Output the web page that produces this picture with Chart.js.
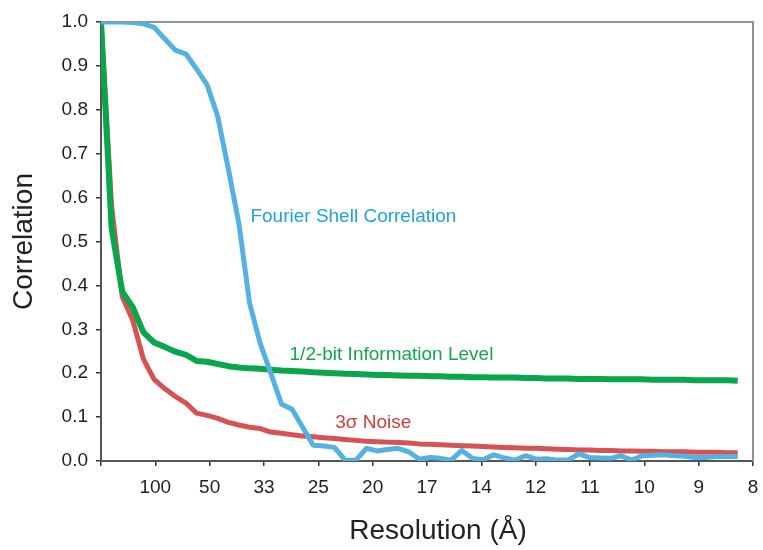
<!DOCTYPE html>
<html>
<head>
<meta charset="utf-8">
<script src="https://cdn.jsdelivr.net/npm/chart.js@4/dist/chart.umd.min.js"></script>
<style>
html,body{margin:0;padding:0;background:#fff;}
#wrap{width:763px;height:550px;}
</style>
</head>
<body>
<div id="wrap"><canvas id="c" width="763" height="550"></canvas></div>
<script>
// Spatial frequency of each shell (1/Å)
const shellFreq = [
  0, 0.00195, 0.00391, 0.00586, 0.00781, 0.00977, 0.01172, 0.01367, 0.01563, 0.01758,
  0.01953, 0.02148, 0.02344, 0.02539, 0.02734, 0.0293, 0.03125, 0.0332, 0.03516, 0.03711,
  0.03906, 0.04102, 0.04297, 0.04492, 0.04688, 0.04883, 0.05078, 0.05273, 0.05469, 0.05664,
  0.05859, 0.06055, 0.0625, 0.06445, 0.06641, 0.06836, 0.07031, 0.07227, 0.07422, 0.07617,
  0.07813, 0.08008, 0.08203, 0.08398, 0.08594, 0.08789, 0.08984, 0.0918, 0.09375, 0.0957,
  0.09766, 0.09961, 0.10156, 0.10352, 0.10547, 0.10742, 0.10938, 0.11133, 0.11328, 0.11523,
  0.11719
];
const fsc = [
  1.0, 1.0, 1.0, 0.999, 0.996, 0.988, 0.962, 0.936, 0.927, 0.893,
  0.857, 0.785, 0.665, 0.54, 0.36, 0.268, 0.2, 0.13, 0.118, 0.077,
  0.036, 0.034, 0.031, 0.002, 0.001, 0.029, 0.023, 0.026, 0.029, 0.021,
  0.004, 0.008, 0.006, 0.002, 0.024, 0.006, 0.003, 0.014, 0.007, 0.002,
  0.012, 0.004, 0.005, 0.002, 0.002, 0.016, 0.008, 0.007, 0.006, 0.012,
  0.002, 0.012, 0.013, 0.014, 0.012, 0.011, 0.008, 0.008, 0.01, 0.01,
  0.01
];
const halfBit = [
  1.0, 0.53, 0.386, 0.35, 0.293, 0.27, 0.26, 0.249, 0.242, 0.228,
  0.226, 0.221, 0.216, 0.213, 0.211, 0.21, 0.208, 0.206, 0.205, 0.204,
  0.202, 0.201, 0.2, 0.199, 0.198, 0.197, 0.196, 0.196, 0.195, 0.194,
  0.194, 0.193, 0.193, 0.192, 0.192, 0.191, 0.191, 0.19, 0.19, 0.19,
  0.189, 0.189, 0.188, 0.188, 0.188, 0.187, 0.187, 0.187, 0.186, 0.186,
  0.186, 0.186, 0.185, 0.185, 0.185, 0.185, 0.184, 0.184, 0.184, 0.184,
  0.183
];
const noise3s = [
  1.0, 0.58, 0.374, 0.32, 0.232, 0.186, 0.165, 0.147, 0.132, 0.109,
  0.104, 0.097, 0.088, 0.082, 0.077, 0.074, 0.066, 0.063, 0.06, 0.057,
  0.055, 0.053, 0.051, 0.049, 0.047, 0.045, 0.044, 0.043, 0.042, 0.041,
  0.039, 0.038, 0.037, 0.036, 0.035, 0.034, 0.033, 0.032, 0.031, 0.03,
  0.029, 0.029, 0.028, 0.027, 0.026, 0.025, 0.025, 0.024, 0.024, 0.023,
  0.023, 0.022, 0.022, 0.021, 0.021, 0.021, 0.02, 0.02, 0.02, 0.019,
  0.019
];
const tickFreqs = [0, 0.01, 0.02, 0.03, 0.04, 0.05, 0.06, 0.07, 0.08, 0.09, 0.10, 0.11, 0.12];
const resolutionLabels = ['', '100', '50', '33', '25', '20', '17', '14', '12', '11', '10', '9', '8'];
const yTicks = [0, 0.1, 0.2, 0.3, 0.4, 0.5, 0.6, 0.7, 0.8, 0.9, 1.0];
const xTitle = 'Resolution (Å)';

const seriesNames = ['Fourier Shell Correlation', '1/2-bit Information Level', '3σ Noise'];
const lineColors = ['#56b1e3', '#0aa64b', '#d65253'];
const textColors = ['#1fa2dd', '#14a64a', '#d13c3d'];
// label anchors in data space [freq, correlation]
const labelAnchors = [[0.0275, 0.556], [0.0347, 0.2415], [0.0431, 0.0866]];

const FONT = '"Liberation Sans", Arial, sans-serif';
const pts = arr => arr.map((v, i) => ({x: shellFreq[i], y: v}));

const frame = {
  id: 'frame',
  beforeDatasetsDraw(chart) {
    const {ctx, chartArea: a} = chart;
    ctx.save();
    ctx.strokeStyle = '#8f9397';
    ctx.lineWidth = 2;
    ctx.beginPath();
    ctx.moveTo(a.left, a.top);
    ctx.lineTo(a.right, a.top);
    ctx.lineTo(a.right, a.bottom);
    ctx.stroke();
    ctx.restore();
  },
  afterDatasetsDraw(chart) {
    const {ctx, chartArea: a} = chart;
    const xs = chart.scales.x, ys = chart.scales.y;
    ctx.save();
    ctx.font = '19px ' + FONT;
    ctx.textAlign = 'left';
    ctx.textBaseline = 'middle';
    seriesNames.forEach((n, i) => {
      ctx.fillStyle = textColors[i];
      ctx.fillText(n, xs.getPixelForValue(labelAnchors[i][0]), ys.getPixelForValue(labelAnchors[i][1]));
    });
    // x axis title (slightly right of centre, as in the original)
    ctx.font = '28px ' + FONT;
    ctx.fillStyle = '#222';
    ctx.textAlign = 'center';
    ctx.fillText(xTitle, (a.left + a.right) / 2 + 11, chart.height - 19);
    ctx.restore();
  }
};

new Chart(document.getElementById('c'), {
  type: 'line',
  data: {
    datasets: [
      {label: seriesNames[0], data: pts(fsc), borderColor: lineColors[0], borderWidth: 5},
      {label: seriesNames[1], data: pts(halfBit), borderColor: lineColors[1], borderWidth: 6},
      {label: seriesNames[2], data: pts(noise3s), borderColor: lineColors[2], borderWidth: 5}
    ].map(d => Object.assign(d, {pointRadius: 0, tension: 0, fill: false, borderJoinStyle: 'round', borderCapStyle: 'butt'}))
  },
  options: {
    responsive: false,
    animation: false,
    events: [],
    layout: {padding: {left: 0, right: 10, top: 22, bottom: 0}},
    plugins: {legend: {display: false}, tooltip: {enabled: false}},
    scales: {
      x: {
        type: 'linear',
        min: 0, max: 0.12,
        afterBuildTicks: s => { s.ticks = tickFreqs.map(v => ({value: v})); },
        afterFit: s => { s.height = 89; s.paddingLeft = 0; s.paddingRight = 0; },
        grid: {drawOnChartArea: false, drawTicks: true, tickLength: 5, color: '#333', lineWidth: 1.5},
        border: {display: true, color: '#555', width: 2},
        ticks: {
          autoSkip: false, maxRotation: 0, padding: 10,
          color: '#222',
          font: {family: FONT, size: 19},
          callback: (v, i) => resolutionLabels[i]
        },
        title: {display: false}
      },
      y: {
        type: 'linear',
        min: 0, max: 1.0,
        afterBuildTicks: s => { s.ticks = yTicks.map(v => ({value: v})); },
        afterFit: s => { s.width = 101; },
        grid: {drawOnChartArea: false, drawTicks: true, tickLength: 5, color: '#333', lineWidth: 1.5},
        border: {display: true, color: '#555', width: 2},
        ticks: {
          padding: 8, color: '#222',
          font: {family: FONT, size: 19},
          callback: v => Number(v).toFixed(1)
        },
        title: {
          display: true, text: 'Correlation', color: '#222',
          font: {family: FONT, size: 28},
          padding: {top: 7, bottom: 0}
        }
      }
    }
  },
  plugins: [frame]
});
</script>
</body>
</html>
